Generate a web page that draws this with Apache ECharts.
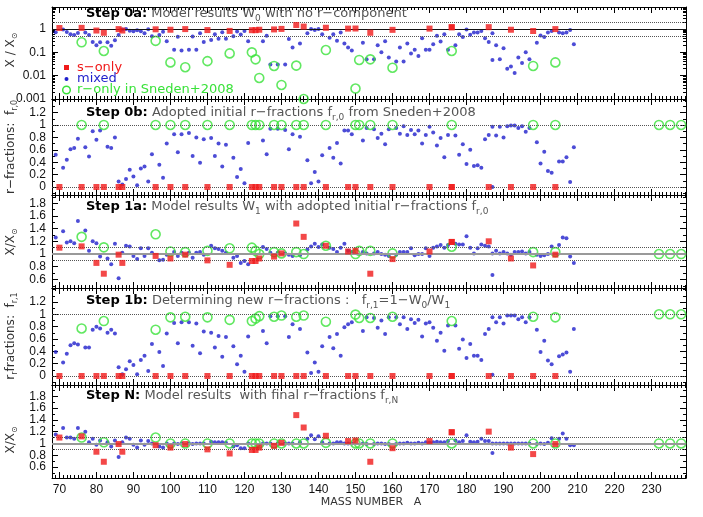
<!DOCTYPE html>
<html><head><meta charset="utf-8">
<script src="https://cdn.jsdelivr.net/npm/echarts@6/dist/echarts.min.js"></script>
<style>html,body{margin:0;padding:0;background:#fff}#c{width:703px;height:517px}</style>
</head><body><div id="c"></div>
<script>
// ---------------- DATA ----------------
// s-only isotopes (red squares)
const massS = [70,76,80,82,86,87,96,100,104,110,116,122,123,124,128,130,134,136,142,148,150,154,160,170,176,176,186,192,198,204];
const sW  = [1.10,1.12,0.86,0.69,0.99,0.86,0.97,0.93,0.99,0.90,0.83,0.89,0.89,0.93,0.96,1.01,1.48,1.27,1.13,1.04,1.05,0.69,0.92,1.04,1.19,1.19,1.20,0.93,0.82,0.99];
const sF  = [0,0,0,0,0,0,0,0,0,0,0,0,0,0,0,0,0,0,0,0,0,0,0,0,0,0,0,0,0,0];

// r-only isotopes in Sneden+2008 (green circles)
const massR = [76,82,96,100,104,110,116,122,123,124,128,130,134,136,142,150,151,154,160,176,198,204,232,235,238];
const p1R = [0.27,0.114,0.31,0.037,0.023,0.042,0.09,0.10,0.05,0.008,0.026,0.004,0.027,0.001,0.125,0.0028,0.047,0.05,0.022,0.114,0.026,0.037,null,null,null];
const p2R = [1,1,1,1,1,1,1,1,1,1,1,1,1,1,1,1,1,1,1,1,1,1,1,1,1];
const p3R = [1.27,1.105,1.31,1.04,1.03,1.05,1.09,1.10,1.05,1.0,1.03,1.01,1.03,1.0,1.13,1.0,1.05,1.05,1.01,1.115,1.03,1.03,1.0,1.0,1.0];
const p4R = [0.77,0.89,0.75,0.95,0.96,0.95,0.91,0.89,0.93,0.97,0.96,0.98,0.96,0.98,0.88,0.995,0.94,0.94,0.96,0.89,0.96,0.95,1,1,1];
const p5R = [1.10,1.02,1.10,1.0,1.0,1.0,1.0,1.0,1.0,1.0,1.0,1.0,1.0,1.0,1.01,1.0,1.0,1.0,1.0,1.0,1.0,1.0,1.0,1.0,1.0];

// mixed isotopes (blue dots)
const massM = [69,71,72,73,74,75,77,78,79,80, 81,83,84,85,86,87,88,89,90,91, 92,93,94,95,97,98,99,101,102,103,
  105,106,107,108,109,111,112,113,114,115, 117,118,119,120,121,125,126,127,129,131, 132,133,135,137,138,139,140,141,143,144,
  145,146,147,148,149,152,153,155,156,157, 158,159,161,162,163,164,165,166,167,168, 169,170,171,172,173,174,175,177,178,179,
  180,181,182,183,184,185,186,187,187,188, 189,190,191,192,193,194,195,196,197,199, 200,201,202,203,205,206,207,208,209];
const p1M = [0.72,0.95,0.75,0.60,0.55,0.68,0.70,0.55,0.28,0.20, 0.27,0.27,0.19,0.33,0.55,0.95,1.0,0.85,0.80,0.88,
  0.80,0.65,0.98,0.49,0.55,0.76,0.30,0.13,0.46,0.12, 0.13,0.48,0.13,0.65,0.28,0.34,0.59,0.38,0.72,0.38,
  0.49,0.79,0.58,0.83,0.30,0.30,0.51,0.03,0.03,0.03, 0.37,0.16,0.24,0.66,1.0,0.9,1.0,0.6,0.42,0.59,
  0.31,0.70,0.24,0.16,0.12,0.26,0.05,0.05,0.20,0.10, 0.30,0.06,0.04,0.16,0.04,0.24,0.09,0.13,0.07,0.40,
  0.13,0.13,0.22,0.52,0.29,0.59,0.13,0.20,0.60,0.45, 0.95,0.57,0.70,0.70,0.82,0.40,0.28,0.047,0.66,0.20,
  0.05,0.15,0.02,0.025,0.013,0.06,0.035,0.10,0.05,0.26, 0.53,0.45,0.70,0.83,0.70,0.65,0.70,0.90,0.22];
const p2M = [0.52,0.31,0.44,0.61,0.63,0.78,0.64,0.49,0.90,0.76, 0.91,0.65,0.63,0.80,0.09,0.04,0.13,0.28,0.17,0.03,
  0.30,0.33,0.09,0.53,0.36,0.15,0.70,0.85,0.56,0.85, 0.87,0.50,0.80,0.39,0.77,0.79,0.50,0.70,0.33,0.68,
  0.47,0.16,0.29,0.06,0.71,0.75,0.53,0.94,0.94,0.92, 0.61,0.85,0.81,0.43,0.06,0.24,0.09,0.51,0.63,0.47,
  0.71,0.38,0.91,0.91,0.85,0.75,0.95,0.93,0.79,0.86, 0.69,0.93,0.95,0.86,0.98,0.84,0.92,0.85,0.91,0.70,
  0.84,0.97,0.88,0.67,0.79,0.48,0.84,0.83,0.52,0.69, 0.37,0.60,0.34,0.35,0.31,0.77,0.84,0.97,0.0,0.83,
  0.97,0.80,0.98,0.99,0.99,0.95,0.98,0.89,0.95,0.72, 0.38,0.57,0.26,0.23,0.41,0.41,0.48,0.08,0.64];
const p3M = [1.26,1.36,1.18,1.20,1.17,1.52,1.37,1.05,1.20,1.17, 0.96,0.93,0.84,1.16,0.62,1.02,1.13,1.12,0.97,0.92,
  1.09,0.97,1.09,1.02,0.90,0.91,0.99,1.03,0.97,1.02, 1.02,0.94,1.02,1.03,0.99,1.13,1.09,1.08,1.05,1.02,
  0.94,0.97,0.86,0.89,0.84,1.11,1.08,1.02,1.02,1.01, 0.99,0.97,0.98,1.07,1.12,1.16,1.11,1.15,1.10,1.08,
  1.03,1.10,1.16,1.05,1.03,1.03,1.01,1.01,1.03,1.00, 0.99,0.97,0.99,1.03,1.03,1.03,1.09,0.98,1.00,1.00,
  1.09,0.97,1.10,1.12,1.14,1.10,1.14,1.16,1.15,1.15, 1.28,1.10,1.01,1.09,1.15,1.13,1.12,1.01,0.67,1.05,
  1.01,1.03,1.01,0.99,1.03,1.03,1.04,1.01,1.03,0.99, 0.97,0.98,1.00,1.12,1.14,1.26,1.25,0.96,0.86];
const p4M = [0.39,0.22,0.36,0.50,0.53,0.51,0.46,0.46,0.75,0.80, 0.77,0.70,0.75,0.69,0.14,0.03,0.11,0.24,0.18,0.03,
  0.26,0.33,0.08,0.52,0.39,0.16,0.69,0.86,0.53,0.87, 0.87,0.49,0.85,0.37,0.72,0.70,0.46,0.65,0.31,0.63,
  0.48,0.19,0.33,0.07,0.64,0.73,0.53,0.97,0.97,0.97, 0.63,0.84,0.76,0.38,0.05,0.22,0.07,0.48,0.63,0.45,
  0.68,0.33,0.79,0.84,0.87,0.73,0.95,0.94,0.78,0.90, 0.68,0.95,0.95,0.84,0.95,0.76,0.92,0.86,0.91,0.64,
  0.85,0.87,0.78,0.57,0.70,0.41,0.82,0.82,0.44,0.59, 0.29,0.52,0.33,0.33,0.26,0.68,0.76,0.95,0.02,0.87,
  0.95,0.85,0.98,0.98,0.98,0.92,0.95,0.87,0.95,0.75, 0.39,0.57,0.25,0.19,0.32,0.35,0.38,0.07,0.76];
const p5M = [1.15,1.26,1.10,1.10,1.08,1.26,1.20,1.02,1.08,0.98, 1.05,1.02,0.95,1.05,0.77,1.02,1.10,1.08,0.98,0.93,
  1.05,0.98,1.04,1.00,0.95,0.93,1.00,1.00,0.99,1.00, 1.00,0.99,1.00,1.00,1.00,1.03,1.02,1.02,1.02,1.01,
  0.95,0.97,0.92,0.92,1.00,1.00,1.00,1.00,1.00,1.00, 1.00,1.00,1.02,1.08,1.14,1.07,1.12,1.02,1.00,1.00,
  1.02,1.02,1.00,1.00,1.00,1.00,0.99,0.99,1.00,1.00, 0.99,0.99,0.99,1.00,1.00,1.01,1.00,1.00,1.01,1.00,
  1.02,1.01,1.02,1.03,1.02,1.02,1.04,1.05,1.02,1.04, 1.14,1.03,1.02,1.03,1.08,1.04,1.04,1.00,0.84,1.00,
  1.00,1.00,1.00,1.00,1.00,1.00,1.00,1.00,1.00,0.99, 1.00,0.99,1.01,1.09,1.08,1.17,1.08,0.97,0.97];

// element labels of the bottom panel
const elemNames = ['Ge','Se','Kr','Sr','Mo','Ru','Pd','Cd','Sn','Te','Xe','Ba','Nd','Sm','Gd','Dy','Yb','Lu','Hf','Os','Pt','Hg','Pb'];
const elemA     = [71.4,77.3,80.6,87,97.3,100.8,105.4,111.3,117,123.2,129.2,135.4,143.8,150,155.4,161.3,171.4,177.6,177.6,187.3,193.2,199.5,205.4];
const elemY     = [0.52,0.52,0.52,0.52,0.52,0.52,0.52,0.52,0.52,0.52,0.52,0.52,0.52,0.52,0.52,0.52,0.52,0.52,0.72,0.52,0.52,0.52,0.52];

// tick labels
const xTicks = [70,80,90,100,110,120,130,140,150,160,170,180,190,200,210,220,230];
const yTicksLog = [0.001,0.01,0.1,1];
const yMinorLog = [0.002,0.003,0.004,0.005,0.006,0.007,0.008,0.009,0.02,0.03,0.04,0.05,0.06,0.07,0.08,0.09,0.2,0.3,0.4,0.5,0.6,0.7,0.8,0.9,2,3,4,5,6,7,8];
const yTicksFrac = [0,0.2,0.4,0.6,0.8,1,1.2];
const yMinorFrac = [-0.1,0.1,0.3,0.5,0.7,0.9,1.1,1.3,1.4];
const yTicksRatio = [0.6,0.8,1,1.2,1.4,1.6,1.8];
const yMinorRatio = [0.5,0.7,0.9,1.1,1.3,1.5,1.7,1.9];

// ---------------- CHART ----------------
const RED='#f01a1a', BLUE='#1f1fcc', GREEN='#3ae23a', BLK='#000';
const X0=68, X1=239.3;
const L=52, W=634;
const GRIDS=[{top:7,h:92},{top:99,h:96},{top:195,h:93},{top:288,h:97},{top:385,h:93}];
const YR=[{min:-3,max:0.943},{min:-0.129,max:1.419},{min:0.465,max:1.929},{min:-0.146,max:1.426},{min:0.415,max:1.99}];
const lg = v => Math.log10(v);
const yMajor=[yTicksLog.map(lg), yTicksFrac, yTicksRatio, yTicksFrac, yTicksRatio];
const yMinor=[yMinorLog.map(lg), yMinorFrac, yMinorRatio, yMinorFrac, yMinorRatio];
const fmtLog = v => { const e=Math.round(v); return {'-3':'0.001','-2':'0.01','-1':'0.1','0':'1'}[String(e)]; };
const fmtLin = v => Math.abs(v)<1e-9?'0':(Math.abs(v-1)<1e-9?'1':v.toFixed(1));

const grid=[], xAxis=[], yAxis=[], series=[];
GRIDS.forEach((g,i)=>{
  grid.push({left:L, top:g.top, width:W, height:g.h, containLabel:false});
  ['bottom','top'].forEach(pos=>{
    xAxis.push({type:'value', gridIndex:i, position:pos, min:X0, max:X1,
      axisLine:{show:true,onZero:false,lineStyle:{color:BLK,width:1}},
      axisTick:{show:true,inside:true,length:6,customValues:xTicks,lineStyle:{color:BLK,width:1}},
      axisLabel:(pos==='bottom'&&i===4)?{show:true,customValues:xTicks,margin:6,color:'#111',fontSize:12,fontFamily:'Liberation Sans'}:{show:false},
      splitLine:{show:false}});
    xAxis.push({type:'value', gridIndex:i, position:pos, min:X0, max:X1, interval:1,
      axisLine:{show:false,onZero:false},
      axisTick:{show:true,inside:true,length:3,lineStyle:{color:BLK,width:1}},
      axisLabel:{show:false}, splitLine:{show:false}});
  });
  ['left','right'].forEach(pos=>{
    yAxis.push({type:'value', gridIndex:i, position:pos, min:YR[i].min, max:YR[i].max,
      axisLine:{show:true,onZero:false,lineStyle:{color:BLK,width:1}},
      axisTick:{show:true,inside:true,length:6,customValues:yMajor[i],lineStyle:{color:BLK,width:1}},
      axisLabel:pos==='left'?{show:true,customValues:yMajor[i],margin:6,color:'#111',fontSize:12,fontFamily:'Liberation Sans',formatter:i===0?fmtLog:fmtLin}:{show:false},
      splitLine:{show:false}});
    yAxis.push({type:'value', gridIndex:i, position:pos, min:YR[i].min, max:YR[i].max,
      axisLine:{show:false,onZero:false},
      axisTick:{show:true,inside:true,length:3,customValues:yMinor[i],lineStyle:{color:BLK,width:1}},
      axisLabel:{show:false}, splitLine:{show:false}});
  });
});

function pairs(xs, ys, log){ const out=[]; xs.forEach((x,k)=>{const y=ys[k]; if(y==null) return; out.push([x, log?lg(y):y]);}); return out; }
const dotted = {type:'dotted', color:'#555', width:1};
const refLines=[
  [{yAxis:lg(2),lineStyle:dotted},{yAxis:lg(0.5),lineStyle:dotted},{yAxis:0,lineStyle:{type:'solid',color:'#111',width:1.2}}],
  [{yAxis:1,lineStyle:dotted},{yAxis:0,lineStyle:dotted}],
  [{yAxis:1.1,lineStyle:dotted},{yAxis:0.9,lineStyle:dotted},{yAxis:1,lineStyle:{type:'solid',color:'#999',width:2}}],
  [{yAxis:1,lineStyle:dotted},{yAxis:0,lineStyle:dotted}],
  [{yAxis:1.1,lineStyle:dotted},{yAxis:0.9,lineStyle:dotted},{yAxis:1,lineStyle:{type:'solid',color:'#999',width:2}}]
];
const Mv=[p1M,p2M,p3M,p4M,p5M], Rv=[p1R,p2R,p3R,p4R,p5R], Sv=[sW,sF,sW,sF,sW];
for(let i=0;i<5;i++){
  const ax={xAxisIndex:4*i, yAxisIndex:4*i};
  series.push(Object.assign({type:'scatter', data:[], z:1, silent:true,
    markLine:{silent:true, symbol:['none','none'], label:{show:false}, data:refLines[i]}},ax));
  series.push(Object.assign({type:'scatter', z:3, data:pairs(massM,Mv[i],i===0), symbol:'circle', symbolSize:4,
    itemStyle:{color:BLUE}},ax));
  series.push(Object.assign({type:'scatter', z:4, data:pairs(massR,Rv[i],i===0), symbol:'circle', symbolSize:9,
    itemStyle:{color:'rgba(0,0,0,0)',borderColor:GREEN,borderWidth:1.6}},ax));
  series.push(Object.assign({type:'scatter', z:5, data:pairs(massS,Sv[i],i===0), symbol:'rect', symbolSize:6,
    itemStyle:{color:RED}},ax));
}
// element names on the last panel
series.push({type:'scatter', xAxisIndex:16, yAxisIndex:16, z:6, symbol:'circle', symbolSize:1, itemStyle:{opacity:0},
  data:elemNames.map((n,k)=>({value:[elemA[k],elemY[k]],name:n})),
  label:{show:true,position:'inside',formatter:p=>p.name,color:RED,fontSize:15,fontFamily:"'Liberation Sans Narrow','DejaVu Sans Condensed',sans-serif"}});

const tb={fontFamily:'DejaVu Sans',fontWeight:'bold',fontSize:13,color:'#000',lineHeight:18};
const tg={fontFamily:'DejaVu Sans',fontWeight:'normal',fontSize:13,color:'#555',lineHeight:18};
const ts={fontFamily:'DejaVu Sans',fontWeight:'normal',fontSize:9,color:'#555',lineHeight:9,verticalAlign:'bottom'};
const titleTexts=[
  '{b|Step 0a:} {g|Model results W}{s|0}{g| with no r−component}',
  '{b|Step 0b:} {g|Adopted initial r−fractions f}{s|r,0}{g| from Sneden+2008}',
  '{b|Step 1a:} {g|Model results W}{s|1}{g| with adopted initial r−fractions f}{s|r,0}',
  '{b|Step 1b:} {g|Determining new r−fractions :   f}{s|r,1}{g|=1−W}{s|0}{g|/W}{s|1}',
  '{b|Step N:} {g|Model results  with final r−fractions f}{s|r,N}'
];
const titleY=[14,113,207,301,396];
const title=titleTexts.map((t,i)=>({text:t,left:86,top:titleY[i]-9,padding:0,
  textStyle:{fontWeight:'normal',fontFamily:'DejaVu Sans',fontSize:13,color:'#555',rich:{b:tb,g:tg,s:ts}}}));

const yn={fontFamily:'DejaVu Sans',fontSize:12,fill:'#333',lineHeight:16};
const yns={fontFamily:'DejaVu Sans',fontSize:8,fill:'#333',lineHeight:8,verticalAlign:'bottom'};
const yNames=[
  {t:'{n|X / X}{s|⊙}',y:50},
  {t:'{n|r−fractions:  f}{s|r,0}',y:147},
  {t:'{n|X/X}{s|⊙}',y:242},
  {t:'{n|r}{s|r}{n|fractions:  f}{s|r,1}',y:336},
  {t:'{n|X/X}{s|⊙}',y:440}
];
const graphic=[];
yNames.forEach(o=>graphic.push({type:'text',x:11,y:o.y,rotation:Math.PI/2,
  style:{text:o.t,rich:{n:yn,s:yns},align:'center',verticalAlign:'middle'}}));
// legend of first panel
graphic.push({type:'rect',shape:{x:64,y:65,width:5,height:5},style:{fill:RED}});
graphic.push({type:'circle',shape:{cx:66.5,cy:79,r:2},style:{fill:BLUE}});
graphic.push({type:'circle',shape:{cx:66.5,cy:90,r:3.8},style:{fill:'none',stroke:GREEN,lineWidth:1.5}});
[['s−only',68,RED],['mixed',79,BLUE],['r−only in Sneden+2008',90,GREEN]].forEach(a=>graphic.push({type:'text',x:77,y:a[1],
  style:{text:a[0],fill:a[2],fontFamily:'DejaVu Sans',fontSize:13,align:'left',verticalAlign:'middle'}}));
graphic.push({type:'text',x:371,y:502,style:{text:'MASS NUMBER   A',fill:'#333',fontFamily:'DejaVu Sans',fontSize:11,align:'center',verticalAlign:'middle'}});

const chart=echarts.init(document.getElementById('c'),null,{renderer:'canvas'});
chart.setOption({animation:false,backgroundColor:'#fff',title,grid,xAxis,yAxis,series,graphic});
</script></body></html>
